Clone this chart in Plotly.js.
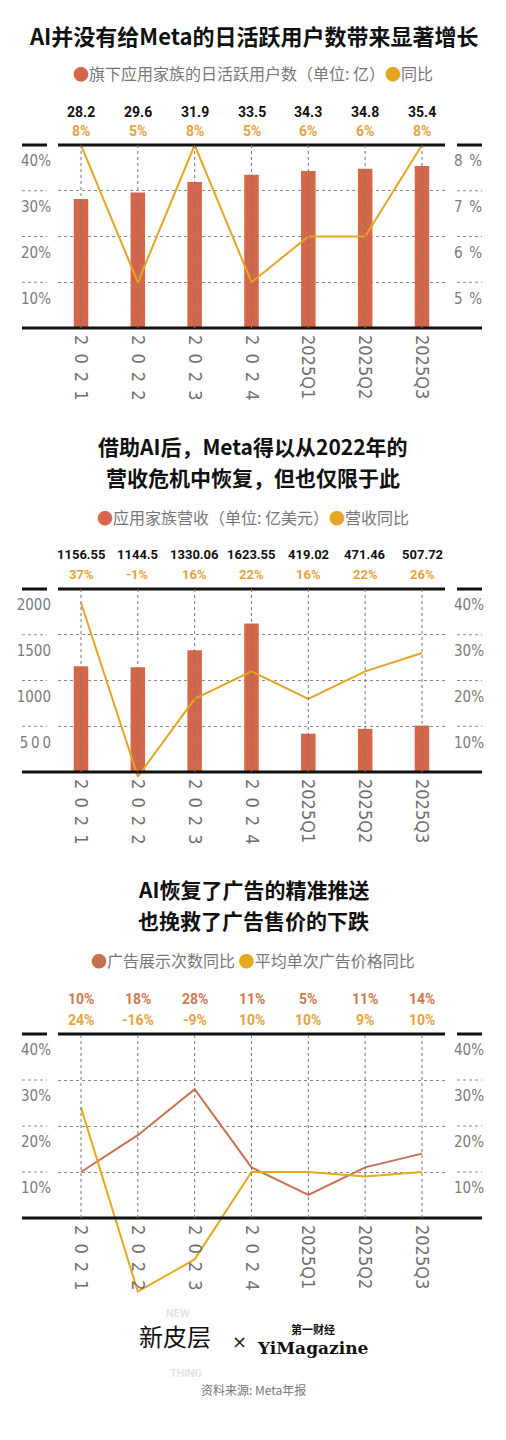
<!DOCTYPE html>
<html><head><meta charset="utf-8">
<script src="https://cdn.plot.ly/plotly-3.0.1.min.js"></script>
<style>html,body{margin:0;padding:0;background:#fff}#chart{width:506px;height:1440px}</style>
</head><body><div id="chart"></div>
<script>
// ---------------- data ----------------
const categories = ['2021','2022','2023','2024','2025Q1','2025Q2','2025Q3'];
const catLabels = ['2\u20020\u20022\u20021','2\u20020\u20022\u20022','2\u20020\u20022\u20023','2\u20020\u20022\u20024','2025Q1','2025Q2','2025Q3'];

const dauValues = [28.2, 29.6, 31.9, 33.5, 34.3, 34.8, 35.4];
const dauYoY = [8, 5, 8, 5, 6, 6, 8];

const revValues = [1156.55, 1144.5, 1330.06, 1623.55, 419.02, 471.46, 507.72];
const revYoY = [37, -1, 16, 22, 16, 22, 26];

const adImpYoY = [10, 18, 28, 11, 5, 11, 14];
const adPriceYoY = [24, -16, -9, 10, 10, 9, 10];

const c1LeftTicks = [10, 20, 30, 40];
const c1LeftText = ['10%', '20%', '30%', '40%'];
const c1RightTicks = [5, 6, 7, 8];
const c1RightText = ['5\u2002%', '6\u2002%', '7\u2002%', '8\u2002%'];
const c2LeftTicks = [500, 1000, 1500, 2000];
const c2LeftText = ['5\u20090\u20090', '1000', '1500', '2000'];
const pctTicks = [10, 20, 30, 40];
const pctText = ['10%', '20%', '30%', '40%'];

const titles1 = ['AI并没有给Meta的日活跃用户数带来显著增长'];
const titles2 = ['借助AI后，Meta得以从2022年的', '营收危机中恢复，但也仅限于此'];
const titles3 = ['AI恢复了广告的精准推送', '也挽救了广告售价的下跌'];

// ---------------- style ----------------
const BAR = '#d4664a', GOLD = '#e6a424', RED3 = '#c8704f', GOLD3 = '#e8a81c';
const PCTC = '#e6a33c', RED3T = '#cf7753';
const NARROW = '"Liberation Sans Narrow","DejaVu Sans Condensed","Arial Narrow",Roboto,sans-serif';
const VALF = 'Roboto,"Liberation Sans",sans-serif';
const CJK = '"Noto Sans CJK SC","Noto Sans",sans-serif';

// ---------------- geometry (pixels) ----------------
const W = 506, H = 1440;
const px = v => v / W, py = v => 1 - v / H;
const PL = 58, PR = 445, C0 = 81, C6 = 422;
const step = (C6 - C0) / 6;
const xRange = [(PL - C0) / step, 6 + (PR - C6) / step];
const xDomain = [px(PL), px(PR)];
const SIDE_L = [22, 47], SIDE_R = [457, 482];

const G1 = {top:145, zero:328, bot:328, titles:[35], tsize:22, legend:73, val:112, pct:131, vsize:14};
const G2 = {top:589, zero:772, bot:781, titles:[446,477], tsize:21, legend:517, val:554, pct:574, vsize:13};
const G3 = {top:1034, zero:1218, bot:1296, titles:[889,920], tsize:21, legend:960, val:999, pct:1020, vsize:14};
const rng = (base, top, g) => [base - (g.bot - g.zero) * (top - base) / (g.zero - g.top), top];

function xAxis(g) {
  return {
    domain: xDomain, range: xRange, type: 'category', anchor: 'free', position: py(g.zero),
    tickmode: 'array', tickvals: categories, ticktext: catLabels, tickangle: 90,
    tickfont: {family: NARROW, size: 18, color: '#6e6e6e'},
    showgrid: false, zeroline: false, showline: false, ticks: '', ticklabelstandoff: 6,
    fixedrange: true
  };
}
function yLeft(g, range, tv, tt) {
  return {
    domain: [py(g.bot), py(g.top)], range: range, tickmode: 'array', tickvals: tv, ticktext: tt,
    tickfont: {family: NARROW, size: 15, color: '#7a7a7a'},
    showgrid: true, griddash: 'dot', gridcolor: '#8a8a8a', gridwidth: 1,
    zeroline: false, showline: false, ticks: '', ticklabelshift: 16, ticklabelstandoff: 6,
    fixedrange: true
  };
}
function yRight(g, over, range, tv, tt) {
  return {
    domain: [py(g.bot), py(g.top)], range: range, overlaying: over, side: 'right',
    tickmode: 'array', tickvals: tv, ticktext: tt,
    tickfont: {family: NARROW, size: 15, color: '#7a7a7a'},
    showgrid: false, zeroline: false, showline: false, ticks: '', ticklabelshift: 16, ticklabelstandoff: 8,
    fixedrange: true
  };
}

const shapes = [];
const annotations = [];
function frame(g, yref, gridVals) {
  [[SIDE_L[0], SIDE_L[1]], [PL, PR], [SIDE_R[0], SIDE_R[1]]].forEach(s => {
    shapes.push({type:'line', xref:'paper', yref:'paper', x0:px(s[0]), x1:px(s[1]), y0:py(g.top), y1:py(g.top),
      line:{color:'#111', width:3}, layer:'above'});
  });
  shapes.push({type:'line', xref:'paper', yref:'paper', x0:px(SIDE_L[0]), x1:px(SIDE_R[1]), y0:py(g.zero), y1:py(g.zero),
    line:{color:'#111', width:3}, layer:'above'});
  gridVals.forEach(v => {
    [SIDE_L, SIDE_R].forEach(s => {
      shapes.push({type:'line', xref:'paper', yref:yref, x0:px(s[0]), x1:px(s[1]), y0:v, y1:v,
        line:{color:'#8a8a8a', width:1, dash:'dot'}, layer:'above'});
    });
  });
}
function vlines(xref, yref, topVal) {
  categories.forEach((c, i) => {
    shapes.push({type:'line', xref:xref, yref:yref, x0:i, x1:i, y0:0, y1:topVal,
      line:{color:'#777', width:1, dash:'dot'}, layer:'above'});
  });
}
function titleBlock(g, lines, legendHtml) {
  lines.forEach((t, i) => annotations.push({xref:'paper', yref:'paper', x:0.5, y:py(g.titles[i]),
    xanchor:'center', yanchor:'middle', showarrow:false, text:'<b>' + t + '</b>',
    font:{family:CJK, size:g.tsize, color:'#111'}}));
  annotations.push({xref:'paper', yref:'paper', x:0.5, y:py(g.legend), xanchor:'center', yanchor:'middle',
    showarrow:false, text:legendHtml, font:{family:CJK, size:16, color:'#777'}});
}
function valueRow(g, xref, texts, yPx, color) {
  categories.forEach((c, i) => annotations.push({xref:xref, yref:'paper', x:i, y:py(yPx),
    xanchor:'center', yanchor:'middle', showarrow:false, text:'<b>' + texts[i] + '</b>',
    font:{family:VALF, size:g.vsize, color:color}}));
}
const dot = col => '<span style="color:' + col + '">●</span>';

// chart 1
frame(G1, 'y', [10, 20, 30]);
vlines('x', 'y', 40);
titleBlock(G1, titles1, dot(BAR) + '旗下应用家族的日活跃用户数（单位: 亿）' + dot(GOLD) + '同比');
valueRow(G1, 'x', dauValues.map(String), G1.val, '#111');
valueRow(G1, 'x', dauYoY.map(v => v + '%'), G1.pct, PCTC);
// chart 2
frame(G2, 'y3', [500, 1000, 1500]);
vlines('x2', 'y3', 2000);
titleBlock(G2, titles2, dot(BAR) + '应用家族营收（单位: 亿美元）' + dot(GOLD) + '营收同比');
valueRow(G2, 'x2', revValues.map(String), G2.val, '#111');
valueRow(G2, 'x2', revYoY.map(v => v + '%'), G2.pct, PCTC);
// chart 3
frame(G3, 'y5', [10, 20, 30]);
vlines('x3', 'y5', 40);
titleBlock(G3, titles3, dot(RED3) + '广告展示次数同比 ' + dot(GOLD3) + '平均单次广告价格同比');
valueRow(G3, 'x3', adImpYoY.map(v => v + '%'), G3.val, RED3T);
valueRow(G3, 'x3', adPriceYoY.map(v => v + '%'), G3.pct, PCTC);

// footer
annotations.push({xref:'paper', yref:'paper', x:px(178), y:py(1321), showarrow:false, text:'<b>NEW</b>',
  font:{family:'Inter, sans-serif', size:10, color:'#e4e4e4'}});
annotations.push({xref:'paper', yref:'paper', x:px(186), y:py(1381), showarrow:false, text:'<b>THING</b>',
  font:{family:'Inter, sans-serif', size:10, color:'#e4e4e4'}});
annotations.push({xref:'paper', yref:'paper', x:px(175), y:py(1355), showarrow:false, text:'新皮层',
  font:{family:CJK, size:24, color:'#111'}});
annotations.push({xref:'paper', yref:'paper', x:px(239), y:py(1354), showarrow:false, text:'×',
  font:{family:'DejaVu Sans, sans-serif', size:18, color:'#222'}});
annotations.push({xref:'paper', yref:'paper', x:px(313), y:py(1339), showarrow:false, text:'<b>第一财经</b>',
  font:{family:CJK, size:11, color:'#111'}});
annotations.push({xref:'paper', yref:'paper', x:px(313), y:py(1360), showarrow:false, text:'<b>YiMagazine</b>',
  font:{family:'"DejaVu Serif", "Liberation Serif", serif', size:17, color:'#111'}});
annotations.push({xref:'paper', yref:'paper', x:px(253), y:py(1400), showarrow:false, text:'资料来源: Meta年报',
  font:{family:CJK, size:12, color:'#777'}});

const traces = [
  {type:'bar', x:categories, y:dauValues, xaxis:'x', yaxis:'y', marker:{color:BAR}, width:0.255, hoverinfo:'skip'},
  {type:'scatter', mode:'lines', x:categories, y:dauYoY, xaxis:'x', yaxis:'y2', line:{color:GOLD, width:2}, hoverinfo:'skip'},
  {type:'bar', x:categories, y:revValues, xaxis:'x2', yaxis:'y3', marker:{color:BAR}, width:0.255, hoverinfo:'skip'},
  {type:'scatter', mode:'lines', x:categories, y:revYoY, xaxis:'x2', yaxis:'y4', line:{color:GOLD, width:2}, hoverinfo:'skip'},
  {type:'scatter', mode:'lines', x:categories, y:adImpYoY, xaxis:'x3', yaxis:'y5', line:{color:RED3, width:2}, hoverinfo:'skip'},
  {type:'scatter', mode:'lines', x:categories, y:adPriceYoY, xaxis:'x3', yaxis:'y6', line:{color:GOLD3, width:2}, hoverinfo:'skip'}
];

const layout = {
  width: W, height: H, autosize: false, showlegend: false,
  margin: {l:0, r:0, t:0, b:0, pad:0},
  paper_bgcolor: '#fff', plot_bgcolor: 'rgba(0,0,0,0)',
  xaxis: xAxis(G1), xaxis2: xAxis(G2), xaxis3: xAxis(G3),
  yaxis: Object.assign(yLeft(G1, [0, 40], c1LeftTicks, c1LeftText), {anchor:'x'}),
  yaxis2: Object.assign(yRight(G1, 'y', [4, 8], c1RightTicks, c1RightText), {anchor:'x'}),
  yaxis3: Object.assign(yLeft(G2, rng(0, 2000, G2), c2LeftTicks, c2LeftText), {anchor:'x2'}),
  yaxis4: Object.assign(yRight(G2, 'y3', rng(0, 40, G2), pctTicks, pctText), {anchor:'x2'}),
  yaxis5: Object.assign(yLeft(G3, rng(0, 40, G3), pctTicks, pctText), {anchor:'x3'}),
  yaxis6: Object.assign(yRight(G3, 'y5', rng(0, 40, G3), pctTicks, pctText), {anchor:'x3'}),
  shapes: shapes, annotations: annotations
};

Plotly.newPlot('chart', traces, layout, {staticPlot: true, displayModeBar: false});
</script>
</body></html>
